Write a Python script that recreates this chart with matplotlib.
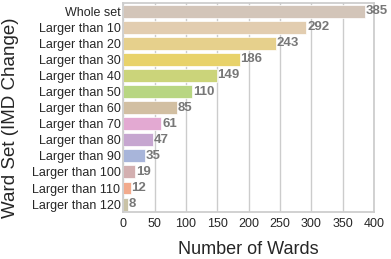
import matplotlib
matplotlib.use("Agg")
import matplotlib.pyplot as plt
import seaborn as sns

# ward sets and counts
categories = ["Whole set", "Larger than 10", "Larger than 20", "Larger than 30",
              "Larger than 40", "Larger than 50", "Larger than 60", "Larger than 70",
              "Larger than 80", "Larger than 90", "Larger than 100", "Larger than 110",
              "Larger than 120"]
counts = [385, 292, 243, 186, 149, 110, 85, 61, 47, 35, 19, 12, 8]
colors = ["#d3c5b9", "#e2cdb0", "#e6d08c", "#e8d26a", "#cbd47a", "#b8d682", "#d2bfa2",
          "#e3a9d2", "#c6a6d0", "#a8b5da", "#d3afb0", "#f2aa8c", "#c9c2a6"]
xticks = [0, 50, 100, 150, 200, 250, 300, 350, 400]

sns.set_theme(style="whitegrid")
plt.rcParams['font.family'] = ['Liberation Sans', 'DejaVu Sans']

fig = plt.figure(figsize=(3.91, 2.59), dpi=100)
ax = fig.add_axes([0.315, 0.181, 0.642, 0.807])

ypos = list(range(len(categories)))
ax.barh(ypos, counts, height=0.8, color=colors, edgecolor="white", linewidth=0.5)
ax.set_ylim(len(categories) - 0.5, -0.5)
ax.set_xlim(0, 400)
ax.set_yticks(ypos)
ax.set_yticklabels(categories, fontsize=9)
ax.set_xticks(xticks)
ax.set_xticklabels([str(t) for t in xticks], fontsize=9)
ax.tick_params(axis="both", length=0)
ax.tick_params(axis="y", pad=2)
ax.tick_params(axis="x", pad=4)
ax.grid(axis="y", visible=False)

for y, v in zip(ypos, counts):
    ax.text(v + 1, y, str(v), va="center", ha="left", fontsize=9.5,
            fontweight="bold", color="#777777")

ax.set_xlabel("Number of Wards", fontsize=13, labelpad=8)
ax.set_ylabel("Ward Set (IMD Change)", fontsize=13.5)
ax.yaxis.set_label_coords(-0.415, 0.45)

fig.savefig("out.png", dpi=100)
